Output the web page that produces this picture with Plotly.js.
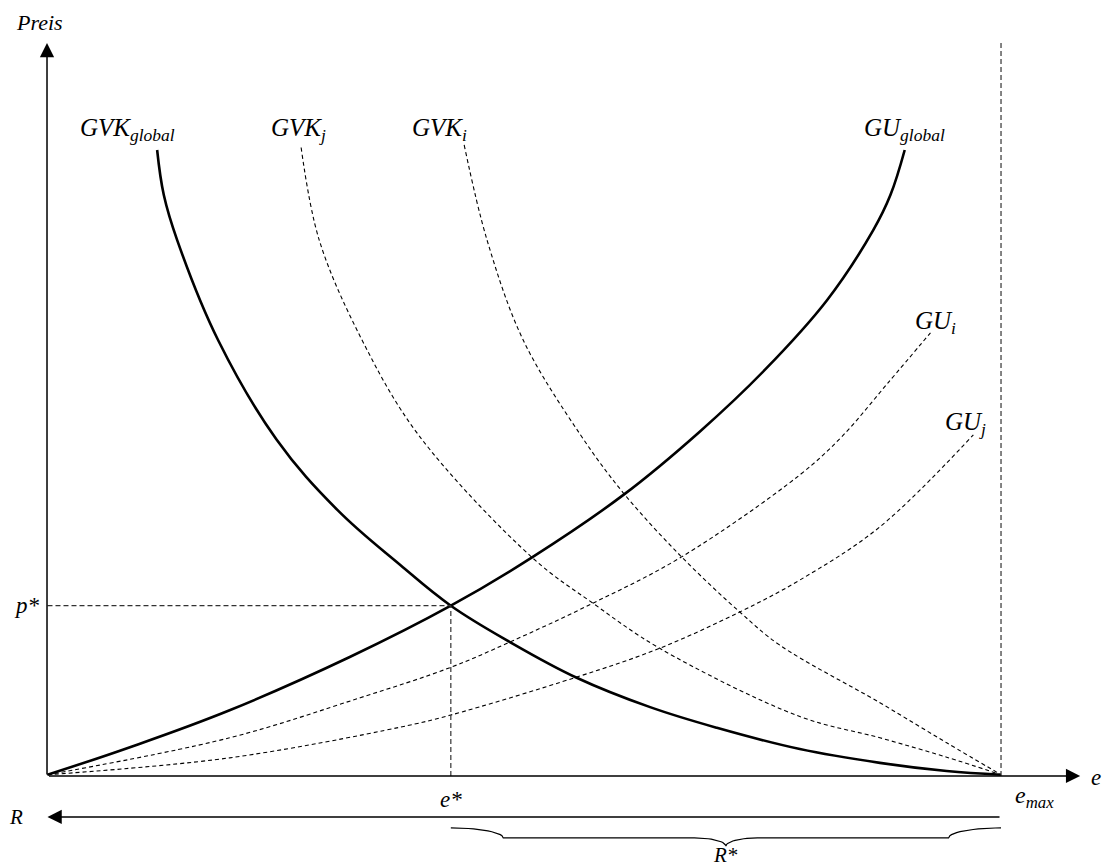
<!DOCTYPE html>
<html>
<head>
<meta charset="utf-8">
<script src="https://cdn.plot.ly/plotly-3.0.1.min.js"></script>
<style>
  html, body { margin: 0; padding: 0; background: #fff; }
  #chart { width: 1104px; height: 866px; }
</style>
</head>
<body>
<div id="chart"></div>
<script>
// Quantity e (0 .. e_max = 100) and price (arbitrary units)
const eMax = 100;
const eStar = 42.3;
const pStar = 27.2;

// Aggregate marginal abatement cost curve (GVK global)
const gvkGlobalE = [11.5, 12.2, 13.6, 17.9, 24.0, 30.4, 37.0, 42.3, 48.5, 55.5, 63.2, 70.2, 78.9, 87.3, 94.3, 100];
const gvkGlobalP = [100, 92.8, 85.6, 69.6, 53.8, 42.5, 33.7, 27.2, 21.4, 15.7, 11.0, 7.7, 4.3, 2.1, 0.8, 0.2];

// Marginal abatement cost, firm j
const gvkJE = [26.6, 28.5, 33.0, 38.9, 50.9, 57.2, 64.2, 78.9, 87.3, 94.3, 100];
const gvkJP = [100.4, 85.6, 69.6, 54.5, 34.8, 27.6, 20.4, 9.5, 6.1, 3.0, 0.2];

// Marginal abatement cost, firm i
const gvkIE = [43.7, 46.1, 49.9, 55.85, 60.4, 66.5, 72.6, 76.8, 87.3, 94.3, 100];
const gvkIP = [100.8, 85.6, 69.6, 54.6, 45.2, 35.0, 26.2, 20.9, 11.7, 5.3, 0.2];

// Aggregate marginal benefit of emissions (GU global)
const guGlobalE = [0, 8.65, 19.1, 31.7, 42.3, 50.9, 60.4, 68.4, 75.25, 81.75, 86.6, 88.4, 89.9];
const guGlobalP = [0.2, 4.6, 10.5, 19.0, 27.2, 35.0, 44.9, 55.0, 64.9, 76.0, 87.2, 92.8, 100];

// Marginal benefit, firm i
const guIE = [0, 19.1, 32.8, 42.2, 48.5, 57.2, 66.5, 78.9, 83.3, 88.15, 92.6];
const guIP = [0.2, 6.1, 12.5, 17.3, 21.4, 27.6, 35.0, 48.1, 54.2, 62.8, 70.8];

// Marginal benefit, firm j
const guJE = [0, 19.1, 37.0, 42.2, 55.5, 64.2, 72.6, 78.9, 87.3, 97.1];
const guJP = [0.2, 2.9, 7.8, 9.7, 15.8, 20.4, 26.2, 31.3, 39.8, 54.5];

// Axis extents
const eAxisEnd = 108.3;
const pAxisEnd = 117.1;
const rLineP = -6.55;

const FONT = "Liberation Serif";
const INK = "#000";

function solid(x, y) {
  return { x, y, type: "scatter", mode: "lines", hoverinfo: "skip",
           line: { color: INK, width: 2.6, shape: "spline", smoothing: 1.1 } };
}
function dashed(x, y) {
  return { x, y, type: "scatter", mode: "lines", hoverinfo: "skip",
           line: { color: INK, width: 1.1, dash: "4px,3px", shape: "spline", smoothing: 1.0 } };
}

// Curly brace under the R* range, between e* and e_max
function brace(x0, x1, yTop, yMid, yTip) {
  const c = (x0 + x1) / 2;
  const bx = [], by = [];
  const r = 5.5;
  const steps = 14;
  for (let k = 0; k <= steps; k++) {
    const t = k / steps;
    bx.push(x0 + r * Math.sin(t * Math.PI / 2));
    by.push(yTop + (yMid - yTop) * (1 - Math.cos(t * Math.PI / 2)));
  }
  bx.push(c - r * 0.6); by.push(yMid);
  for (let k = 0; k <= steps; k++) {
    const t = k / steps;
    bx.push(c - r * 0.6 + r * 0.6 * Math.sin(t * Math.PI / 2));
    by.push(yMid + (yTip - yMid) * (1 - Math.cos(t * Math.PI / 2)));
  }
  for (let k = 0; k <= steps; k++) {
    const t = k / steps;
    bx.push(c + r * 0.6 * (1 - Math.cos(t * Math.PI / 2)));
    by.push(yTip + (yMid - yTip) * Math.sin(t * Math.PI / 2));
  }
  bx.push(x1 - r); by.push(yMid);
  for (let k = 0; k <= steps; k++) {
    const t = k / steps;
    bx.push(x1 - r + r * (1 - Math.cos(t * Math.PI / 2)));
    by.push(yMid + (yTop - yMid) * Math.sin(t * Math.PI / 2));
  }
  return { x: bx, y: by, type: "scatter", mode: "lines", hoverinfo: "skip",
           line: { color: INK, width: 1.2 } };
}

const traces = [
  solid(gvkGlobalE, gvkGlobalP),
  solid(guGlobalE, guGlobalP),
  dashed(gvkJE, gvkJP),
  dashed(gvkIE, gvkIP),
  dashed(guIE, guIP),
  dashed(guJE, guJP),
  brace(eStar, eMax, -8.3, -9.9, -11.2)
];

const shapes = [
  // equilibrium guide lines
  { type: "line", x0: 0, x1: eStar, y0: pStar, y1: pStar,
    line: { color: "#333", width: 1.2, dash: "5px,3px" } },
  { type: "line", x0: eStar, x1: eStar, y0: 0, y1: pStar,
    line: { color: "#333", width: 1.2, dash: "5px,3px" } },
  // e_max boundary
  { type: "line", x0: eMax, x1: eMax, y0: 0, y1: pAxisEnd,
    line: { color: "#333", width: 1.2, dash: "5px,3px" } }
];

function arrow(x, y, ax, ay) {
  return { x, y, ax, ay, xref: "x", yref: "y", axref: "x", ayref: "y",
           text: "", showarrow: true, arrowhead: 2, arrowsize: 1.9,
           arrowwidth: 1.5, arrowcolor: INK, standoff: 0, startstandoff: 0 };
}
function label(text, x, y, xanchor, size) {
  return { x, y, xref: "x", yref: "y", text: "<i>" + text + "</i>",
           showarrow: false, xanchor: xanchor || "center", yanchor: "middle",
           font: { family: FONT, size: size || 25, color: INK } };
}

const annotations = [
  arrow(-0.05, pAxisEnd, -0.05, 0),
  arrow(eAxisEnd, 0, 0, 0),
  arrow(0, rLineP, eMax, rLineP),
  label("Preis", -0.8, 120.4, "center", 22),
  label("GVK<sub>global</sub>", 3.2, 103.2, "left"),
  label("GVK<sub>j</sub>", 23.2, 103.3, "left"),
  label("GVK<sub>i</sub>", 38.0, 103.3, "left"),
  label("GU<sub>global</sub>", 85.4, 103.3, "left"),
  label("GU<sub>i</sub>", 90.8, 72.4, "left"),
  label("GU<sub>j</sub>", 93.9, 56.3, "left"),
  label("p*", -0.6, pStar, "right", 23),
  label("e*", eStar, -3.8, "center", 23),
  label("e<sub>max</sub>", 101.3, -3.4, "left", 24),
  label("e", 109.2, -0.3, "left", 23),
  label("R", -3.3, rLineP, "center", 21),
  label("R*", (eStar + eMax) / 2, -12.7, "center", 21)
];

const layout = {
  width: 1104, height: 866,
  margin: { l: 0, r: 0, t: 0, b: 0 },
  paper_bgcolor: "#fff", plot_bgcolor: "#fff",
  showlegend: false,
  xaxis: { range: [-4.98, 110.8], visible: false, fixedrange: true },
  yaxis: { range: [-14.38, 123.96], visible: false, fixedrange: true },
  shapes, annotations
};

Plotly.newPlot("chart", traces, layout, { staticPlot: true, displayModeBar: false });
</script>
</body>
</html>
